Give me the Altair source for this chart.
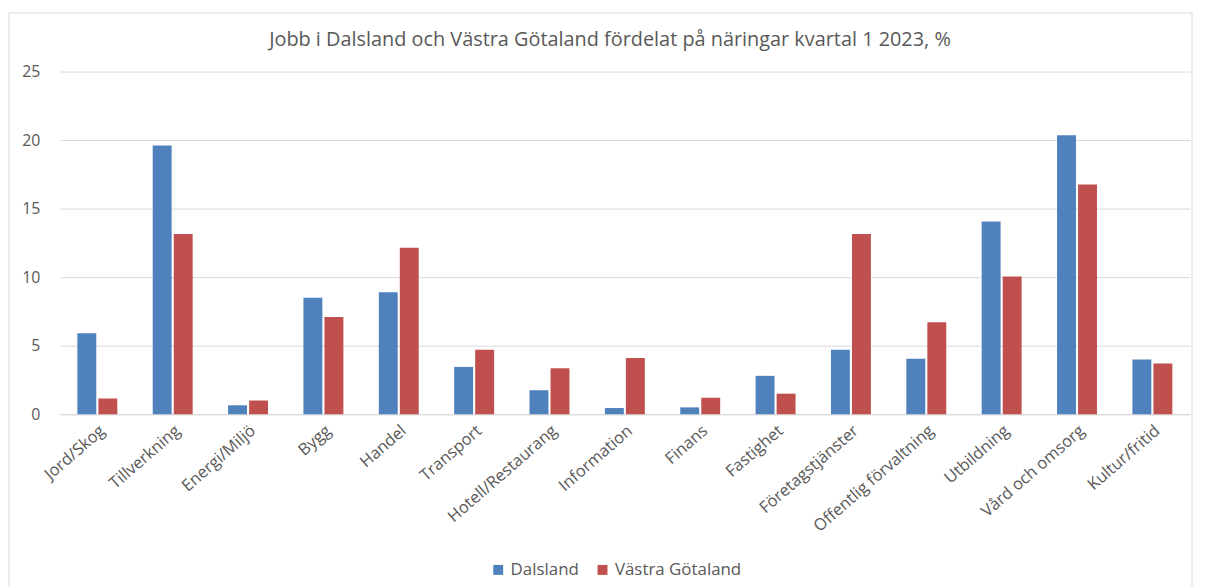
import altair as alt
import pandas as pd

categories = ["Jord/Skog", "Tillverkning", "Energi/Miljö", "Bygg", "Handel", "Transport",
              "Hotell/Restaurang", "Information", "Finans", "Fastighet", "Företagstjänster",
              "Offentlig förvaltning", "Utbildning", "Vård och omsorg", "Kultur/fritid"]
dalsland = [5.9, 19.6, 0.65, 8.5, 8.9, 3.45, 1.75, 0.45, 0.5, 2.8, 4.7, 4.05, 14.05, 20.35, 4.0]
vastra = [1.15, 13.15, 1.0, 7.1, 12.15, 4.7, 3.35, 4.1, 1.2, 1.5, 13.15, 6.7, 10.05, 16.75, 3.7]
series = ["Dalsland", "Västra Götaland"]
colors = ["#4F81BD", "#C0504D"]
title_text = "Jobb i Dalsland och Västra Götaland fördelat på näringar kvartal 1 2023, %"

rows = []
for c, d, v in zip(categories, dalsland, vastra):
    rows.append({"Näring": c, "Område": series[0], "Andel": d})
    rows.append({"Näring": c, "Område": series[1], "Andel": v})
df = pd.DataFrame(rows)

FONT = "Open Sans"
TXT = "#595959"

bars = alt.Chart(df).mark_bar().encode(
    x=alt.X("Näring:N", sort=categories, title=None,
            scale=alt.Scale(paddingInner=0.47, paddingOuter=0.235),
            axis=alt.Axis(labelAngle=-41, labelAlign="right", labelBaseline="top",
                          labelFontSize=16.5, labelColor=TXT, labelFont=FONT,
                          ticks=False, domainColor="#d9d9d9", labelPadding=8)),
    xOffset=alt.XOffset("Område:N", sort=series, scale=alt.Scale(paddingInner=0.1)),
    y=alt.Y("Andel:Q", title=None, scale=alt.Scale(domain=[0, 25]),
            axis=alt.Axis(values=[0, 5, 10, 15, 20, 25], domain=False, ticks=False,
                          gridColor="#d9d9d9", labelFontSize=16, labelColor=TXT,
                          labelFont=FONT, labelPadding=20)),
    color=alt.Color("Område:N", sort=series,
                    scale=alt.Scale(domain=series, range=colors),
                    legend=alt.Legend(title=None, orient="none", direction="horizontal",
                                      legendX=433, legendY=493, symbolType="square",
                                      symbolSize=100, symbolStrokeWidth=0,
                                      labelFontSize=17, labelColor=TXT, labelFont=FONT,
                                      columnPadding=15)),
)

border = alt.Chart(alt.Data(values=[{}])).mark_rect(
    fill=None, stroke="#d9d9d9", strokeWidth=1
).encode(
    x=alt.value(-51), x2=alt.value(1140), y=alt.value(-59), y2=alt.value(600)
)

title = alt.Chart(alt.Data(values=[{"t": title_text}])).mark_text(
    font=FONT, fontSize=20, color=TXT, align="center", baseline="middle"
).encode(
    text="t:N", x=alt.value(554), y=alt.value(-32)
)

chart = alt.layer(border, bars, title).properties(
    width=1138, height=345,
    autosize=alt.AutoSizeParams(type="none"),
    padding={"left": 52, "top": 62, "right": 8, "bottom": 172},
).configure_view(stroke=None)

chart.save("out.html", embed_options={"renderer": "svg", "actions": False})
